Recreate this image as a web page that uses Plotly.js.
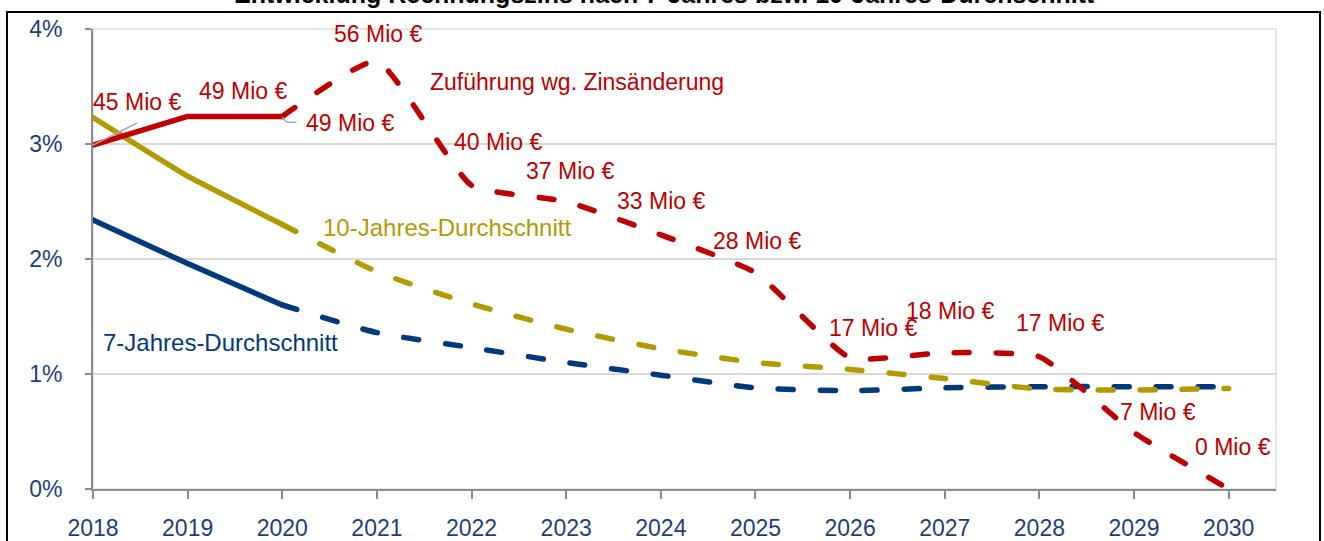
<!DOCTYPE html>
<html>
<head>
<meta charset="utf-8">
<script src="https://cdn.plot.ly/plotly-3.0.1.min.js"></script>
<style>
html,body{margin:0;padding:0;background:#fff;}
#chart{width:1324px;height:541px;}
.js-line{stroke-linecap:round;stroke-linejoin:round;}
</style>
</head>
<body>
<div id="chart"></div>
<script>
// ---- data ----
const years = [2018, 2019, 2020, 2021, 2022, 2023, 2024, 2025, 2026, 2027, 2028, 2029, 2030];
const rechnungszins = [2.99, 3.24, 3.24, 3.72, 2.64, 2.50, 2.21, 1.88, 1.14, 1.185, 1.15, 0.49, 0.0];
const durchschnitt10 = [3.23, 2.72, 2.30, 1.89, 1.61, 1.39, 1.22, 1.10, 1.04, 0.96, 0.87, 0.86, 0.875];
const durchschnitt7 = [2.34, 1.96, 1.60, 1.36, 1.23, 1.10, 0.99, 0.88, 0.855, 0.88, 0.89, 0.89, 0.89];
const lastActualIndex = 2; // solid up to 2020, dashed afterwards
const zufuehrungLabels = ["45 Mio €", "49 Mio €", "49 Mio €", "56 Mio €", "40 Mio €", "37 Mio €", "33 Mio €", "28 Mio €", "17 Mio €", "18 Mio €", "17 Mio €", "7 Mio €", "0 Mio €"];
const seriesNames = ["Zuführung wg. Zinsänderung", "10-Jahres-Durchschnitt", "7-Jahres-Durchschnitt"];
const yTicks = [0, 1, 2, 3, 4];
const chartTitle = "Entwicklung Rechnungszins nach 7-Jahres bzw. 10-Jahres-Durchschnitt";

// ---- styling / layout ----
const RED = "#C00000", GOLD = "#B39A00", BLUE = "#003A7C", NAVY = "#1B3F7C";
const FONT = "Liberation Sans, Arial, sans-serif";

function seg(arr, solid) {
  return solid ? arr.slice(0, lastActualIndex + 1) : arr.slice(lastActualIndex);
}
function trace(vals, color, solid, smooth) {
  return {
    x: seg(years, solid), y: seg(vals, solid), type: "scatter", mode: "lines",
    hoverinfo: "skip", showlegend: false,
    line: {color: color, width: 5.5, dash: solid ? "solid" : "15px,27px",
           shape: smooth > 0 ? "spline" : "linear", smoothing: smooth}
  };
}
const data = [
  trace(durchschnitt7, BLUE, true, 0.3),
  trace(durchschnitt7, BLUE, false, 0.6),
  trace(durchschnitt10, GOLD, true, 0.3),
  trace(durchschnitt10, GOLD, false, 0.6),
  trace(rechnungszins, RED, true, 0),
  trace(rechnungszins, RED, false, 0.45)
];

// label positions (year, percent)
const labelX = [2018.465, 2019.584, 2020.715, 2021.01, 2022.278, 2023.039, 2024.0, 2025.014, 2026.239, 2027.053, 2028.215, 2029.25, 2030.042];
const labelY = [3.365, 3.461, 3.183, 3.957, 3.017, 2.765, 2.504, 2.157, 1.40, 1.548, 1.443, 0.67, 0.365];

const annotations = zufuehrungLabels.map((t, i) => ({
  x: labelX[i], y: labelY[i], xref: "x", yref: "y", text: t, showarrow: false,
  font: {family: FONT, size: 23, color: RED}
}));
annotations.push({x: 2023.113, y: 3.539, xref: "x", yref: "y", text: seriesNames[0], showarrow: false,
  font: {family: FONT, size: 23, color: RED}});
annotations.push({x: 2021.739, y: 2.278, xref: "x", yref: "y", text: seriesNames[1], showarrow: false,
  font: {family: FONT, size: 24, color: GOLD}});
annotations.push({x: 2019.352, y: 1.27, xref: "x", yref: "y", text: seriesNames[2], showarrow: false,
  font: {family: FONT, size: 24, color: BLUE}});
annotations.push({x: 0.4835, y: 1.041, xref: "paper", yref: "paper", yanchor: "bottom", text: "<b>" + chartTitle + "</b>",
  showarrow: false, font: {family: FONT, size: 25, color: "#000"}});

const shapes = [
  // light plot frame
  {type: "rect", xref: "paper", yref: "paper", x0: 0, x1: 1, y0: 0, y1: 1, layer: "below",
   line: {color: "#e6e6e6", width: 2}},
  // outer black frame
  {type: "rect", xref: "paper", yref: "paper", x0: -0.0727, x1: 1.0372, y0: -0.3, y1: 1.037,
   line: {color: "#000", width: 2}},
  // leader lines
  {type: "line", xref: "x", yref: "y", x0: 2018.0, y0: 2.99, x1: 2018.465, y1: 3.183,
   line: {color: "#aaaaaa", width: 1.5}},
  {type: "path", xref: "x", yref: "y", path: "M2020,3.235 L2020.045,3.19 L2020.15,3.19",
   line: {color: "#aaaaaa", width: 1.5}}
];

const layout = {
  width: 1324, height: 541,
  margin: {l: 93, r: 48, t: 29, b: 52},
  paper_bgcolor: "#fff", plot_bgcolor: "#fff",
  font: {family: FONT},
  showlegend: false,
  xaxis: {
    range: [2018, 2030.5], tickvals: years, ticktext: years.map(String),
    ticks: "outside", ticklen: 8, tickwidth: 2, tickcolor: "#8c8c8c",
    showline: true, linecolor: "#8c8c8c", linewidth: 2,
    showgrid: false, zeroline: false, fixedrange: true,
    tickfont: {family: FONT, size: 23, color: NAVY}, ticklabelstandoff: 9
  },
  yaxis: {
    range: [0, 4], tickvals: yTicks, ticktext: yTicks.map(v => v + "%"),
    ticks: "outside", ticklen: 6, tickwidth: 2, tickcolor: "#8c8c8c",
    showline: true, linecolor: "#8c8c8c", linewidth: 2,
    showgrid: true, gridcolor: "#d9d9d9", gridwidth: 2, zeroline: false, fixedrange: true,
    tickfont: {family: FONT, size: 23, color: NAVY}, ticklabelstandoff: 18
  },
  annotations: annotations,
  shapes: shapes
};

Plotly.newPlot("chart", data, layout, {displayModeBar: false, staticPlot: true});
</script>
</body>
</html>
